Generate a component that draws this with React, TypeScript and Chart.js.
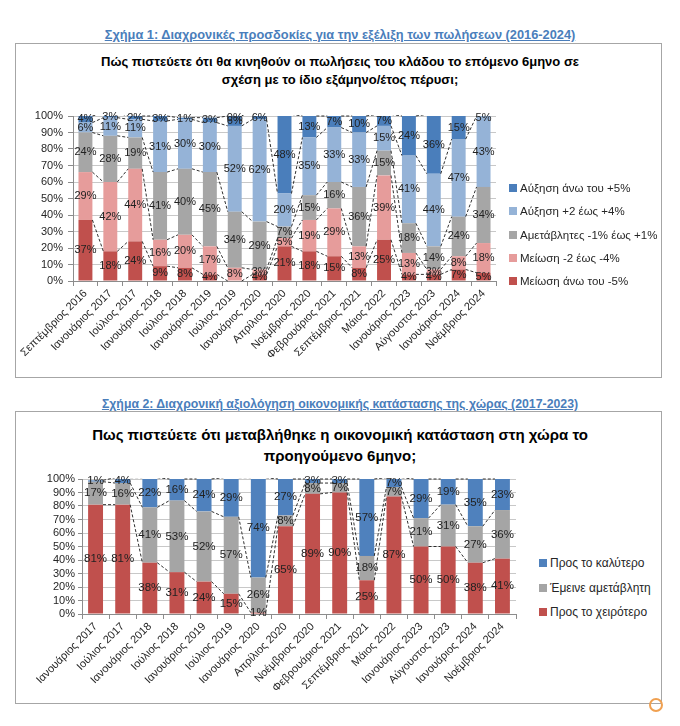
import React, { useEffect, useRef } from 'react';
import { Chart, registerables } from 'chart.js';

Chart.register(...registerables);

const FONT = '"Liberation Sans", Arial, Helvetica, sans-serif';

// ---------- Chart 1 data ----------
const categories1 = [
  'Σεπτέμβριος 2016', 'Ιανουάριος 2017', 'Ιούλιος 2017', 'Ιανουάριος 2018', 'Ιούλιος 2018',
  'Ιανουάριος 2019', 'Ιούλιος 2019', 'Ιανουάριος 2020', 'Απρίλιος 2020', 'Νοέμβριος 2020',
  'Φεβρουάριος 2021', 'Σεπτέμβριος 2021', 'Μάιος 2022', 'Ιανουάριος 2023', 'Αύγουστος 2023',
  'Ιανουάριος 2024', 'Νοέμβριος 2024',
];
const decreaseOver5 = [37, 18, 24, 9, 8, 4, 0, 4, 21, 18, 15, 8, 25, 4, 4, 7, 5];
const decrease2to4 = [29, 42, 44, 16, 20, 17, 8, 3, 5, 19, 29, 13, 39, 13, 3, 8, 18];
const unchanged1 = [24, 28, 19, 41, 40, 45, 34, 29, 7, 15, 16, 36, 15, 18, 14, 24, 34];
const increase2to4 = [6, 11, 11, 31, 30, 30, 52, 62, 20, 35, 33, 33, 15, 41, 44, 47, 43];
const increaseOver5 = [4, 3, 2, 3, 1, 3, 6, 6, 48, 13, 7, 10, 7, 24, 36, 15, 5];
const names1 = [
  'Μείωση άνω του -5%',
  'Μείωση -2 έως -4%',
  'Αμετάβλητες -1% έως +1%',
  'Αύξηση +2 έως +4%',
  'Αύξηση άνω του +5%',
];
const colors1 = ['#c0504d', '#e69c9b', '#a6a6a6', '#95b3d7', '#4a7ebb'];

// ---------- Chart 2 data ----------
const categories2 = [
  'Ιανουάριος 2017', 'Ιούλιος 2017', 'Ιανουάριος 2018', 'Ιούλιος 2018', 'Ιανουάριος 2019',
  'Ιούλιος 2019', 'Ιανουάριος 2020', 'Απρίλιος 2020', 'Νοέμβριος 2020', 'Φεβρουάριος 2021',
  'Σεπτέμβριος 2021', 'Μάιος 2022', 'Ιανουάριος 2023', 'Αύγουστος 2023', 'Ιανουάριος 2024',
  'Νοέμβριος 2024',
];
const worse = [81, 81, 38, 31, 24, 15, 1, 65, 89, 90, 25, 87, 50, 50, 38, 41];
const same = [17, 16, 41, 53, 52, 57, 26, 8, 8, 7, 18, 7, 21, 31, 27, 36];
const better = [1, 4, 22, 16, 24, 29, 74, 27, 3, 3, 57, 7, 29, 19, 35, 23];
const names2 = ['Προς το χειρότερο', 'Έμεινε αμετάβλητη', 'Προς το καλύτερο'];
const colors2 = ['#c0504d', '#a5a5a5', '#4f81bd'];

const yTicks = [0, 10, 20, 30, 40, 50, 60, 70, 80, 90, 100];

const seriesLinesPlugin = {
  id: 'seriesLines',
  afterDatasetsDraw(chart: any) {
    const ctx = chart.ctx;
    const area = chart.chartArea;
    ctx.save();
    ctx.beginPath();
    ctx.rect(area.left, area.top - 1, area.right - area.left, area.bottom - area.top + 2);
    ctx.clip();
    ctx.setLineDash([3, 2]);
    ctx.strokeStyle = '#1a1a1a';
    ctx.lineWidth = 0.9;
    chart.data.datasets.forEach((_ds: any, di: number) => {
      const meta = chart.getDatasetMeta(di);
      for (let i = 0; i < meta.data.length - 1; i++) {
        const a = meta.data[i];
        const b = meta.data[i + 1];
        ctx.beginPath();
        ctx.moveTo(a.x + a.width / 2, a.y);
        ctx.lineTo(b.x - b.width / 2, b.y);
        ctx.stroke();
      }
    });
    ctx.restore();
  },
};

const valueLabelsPlugin = {
  id: 'valueLabels',
  afterDatasetsDraw(chart: any, _args: any, opts: any) {
    const ctx = chart.ctx;
    const area = chart.chartArea;
    ctx.save();
    ctx.font = `${opts.size || 11}px ${FONT}`;
    ctx.fillStyle = '#222';
    ctx.textAlign = 'center';
    ctx.textBaseline = 'middle';
    chart.data.datasets.forEach((ds: any, di: number) => {
      const meta = chart.getDatasetMeta(di);
      meta.data.forEach((el: any, i: number) => {
        const top = Math.max(Math.min(el.y, el.base), area.top);
        const bot = Math.min(Math.max(el.y, el.base), area.bottom);
        let y = (top + bot) / 2;
        if (top >= bot) y = area.top + 2;
        ctx.fillText(`${ds.data[i]}%`, el.x, y);
      });
    });
    ctx.restore();
  },
};

type ChartProps = {
  labels: string[];
  series: number[][];
  names: string[];
  colors: string[];
  left: number;
  top: number;
  width: number;
  height: number;
  padTop: number;
  padRight: number;
  yWidth: number;
  xHeight: number;
  barPct: number;
  labelSize: number;
  yTickLen: number;
  yTickPad: number;
};

function StackedChart(p: ChartProps) {
  const ref = useRef<HTMLCanvasElement | null>(null);
  useEffect(() => {
    if (!ref.current) return;
    const chart = new Chart(ref.current, {
      type: 'bar',
      data: {
        labels: p.labels,
        datasets: p.series.map((d, i) => ({
          label: p.names[i],
          data: d,
          backgroundColor: p.colors[i],
          borderWidth: 0,
          barPercentage: p.barPct,
          categoryPercentage: 1,
          clip: 0,
        })),
      },
      options: {
        responsive: false,
        animation: false,
        events: [],
        layout: {
          autoPadding: false,
          padding: { top: p.padTop, right: p.padRight, left: 0, bottom: 0 },
        },
        plugins: {
          legend: { display: false },
          title: { display: false },
          tooltip: { enabled: false },
          valueLabels: { size: p.labelSize },
        } as any,
        scales: {
          x: {
            stacked: true,
            grid: {
              display: true,
              drawOnChartArea: false,
              drawTicks: true,
              tickLength: 5,
              tickColor: '#8c8c8c',
              offset: true,
            },
            border: { display: true, color: '#8c8c8c' },
            ticks: {
              autoSkip: false,
              minRotation: 45,
              maxRotation: 45,
              padding: 1,
              color: '#262626',
              font: { family: FONT, size: 11 },
            },
            afterFit: (s: any) => {
              s.height = p.xHeight;
            },
          },
          y: {
            stacked: true,
            min: 0,
            max: 100,
            afterBuildTicks: (s: any) => {
              s.ticks = yTicks.map((v) => ({ value: v }));
            },
            ticks: {
              autoSkip: false,
              callback: (v: any) => `${v}%`,
              padding: p.yTickPad,
              color: '#262626',
              font: { family: FONT, size: 11 },
            },
            grid: {
              color: '#c8c8c8',
              tickColor: '#8c8c8c',
              tickLength: p.yTickLen,
            },
            border: { display: true, color: '#8c8c8c' },
            afterFit: (s: any) => {
              s.width = p.yWidth;
            },
          },
        },
      } as any,
      plugins: [seriesLinesPlugin, valueLabelsPlugin],
    });
    return () => chart.destroy();
  }, []);
  return (
    <canvas
      ref={ref}
      width={p.width}
      height={p.height}
      style={{ position: 'absolute', left: p.left, top: p.top, width: p.width, height: p.height }}
    />
  );
}

function Legend({ items, colors, left, top, gap, square, textLeft, size }: any) {
  return (
    <>
      {items.map((t: string, i: number) => (
        <div
          key={t}
          style={{
            position: 'absolute',
            left,
            top: top + i * gap - 8,
            height: 16,
            display: 'flex',
            alignItems: 'center',
            fontFamily: FONT,
            fontSize: size,
            color: '#262626',
            whiteSpace: 'nowrap',
          }}
        >
          <span
            style={{
              display: 'inline-block',
              width: square,
              height: square,
              background: colors[i],
              marginRight: textLeft - square,
            }}
          />
          {t}
        </div>
      ))}
    </>
  );
}

export default function App() {
  const heading: React.CSSProperties = {
    position: 'absolute',
    left: 0,
    width: 680,
    textAlign: 'center',
    fontFamily: FONT,
    fontWeight: 'bold',
    lineHeight: '16px',
    color: '#4a7ebb',
    textDecoration: 'underline',
  };
  const box: React.CSSProperties = {
    position: 'absolute',
    left: 15,
    width: 647,
    border: '1px solid #a6a6a6',
    boxSizing: 'border-box',
  };
  const ctitle: React.CSSProperties = {
    position: 'absolute',
    left: 0,
    width: 680,
    textAlign: 'center',
    fontFamily: FONT,
    fontWeight: 'bold',
    color: '#000',
  };
  return (
    <div style={{ position: 'absolute', left: 0, top: 0, width: 680, height: 726, background: '#fff', overflow: 'hidden' }}>
      <div style={{ ...heading, top: 27, fontSize: 12.8 }}>
        Σχήμα 1: Διαχρονικές προσδοκίες για την εξέλιξη των πωλήσεων (2016-2024)
      </div>
      <div style={{ ...box, top: 43, height: 335 }} />
      <div style={{ ...ctitle, top: 53, fontSize: 13, lineHeight: '18px' }}>
        Πώς πιστεύετε ότι θα κινηθούν οι πωλήσεις του κλάδου το επόμενο 6μηνο σε
        <br />
        σχέση με το ίδιο εξάμηνο/έτος πέρυσι;
      </div>
      <StackedChart
        labels={categories1}
        series={[decreaseOver5, decrease2to4, unchanged1, increase2to4, increaseOver5]}
        names={names1}
        colors={colors1}
        left={0}
        top={100}
        width={510}
        height={277}
        padTop={16}
        padRight={14}
        yWidth={73}
        xHeight={96}
        barPct={0.56}
        labelSize={11}
        yTickLen={5}
        yTickPad={5}
      />
      <Legend
        items={[...names1].reverse()}
        colors={[...colors1].reverse()}
        left={509}
        top={188}
        gap={23.3}
        square={8}
        textLeft={11}
        size={11.5}
      />

      <div style={{ ...heading, top: 396, fontSize: 12.3 }}>
        Σχήμα 2: Διαχρονική αξιολόγηση οικονομικής κατάστασης της χώρας (2017-2023)
      </div>
      <div style={{ ...box, top: 411, height: 293 }} />
      <div style={{ ...ctitle, top: 424, fontSize: 15, lineHeight: '21px' }}>
        Πως πιστεύετε ότι μεταβλήθηκε η οικονομική κατάσταση στη χώρα το
        <br />
        προηγούμενο 6μηνο;
      </div>
      <StackedChart
        labels={categories2}
        series={[worse, same, better]}
        names={names2}
        colors={colors2}
        left={0}
        top={460}
        width={530}
        height={240}
        padTop={19}
        padRight={14}
        yWidth={82}
        xHeight={86}
        barPct={0.55}
        labelSize={11.5}
        yTickLen={4}
        yTickPad={3}
      />
      <Legend
        items={[...names2].reverse()}
        colors={[...colors2].reverse()}
        left={539}
        top={563}
        gap={24.5}
        square={8}
        textLeft={11}
        size={12}
      />
      <div
        style={{
          position: 'absolute',
          left: 649,
          top: 698,
          width: 14,
          height: 14,
          borderRadius: '50%',
          border: '2px solid #f0a050',
          boxSizing: 'border-box',
        }}
      />
    </div>
  );
}
